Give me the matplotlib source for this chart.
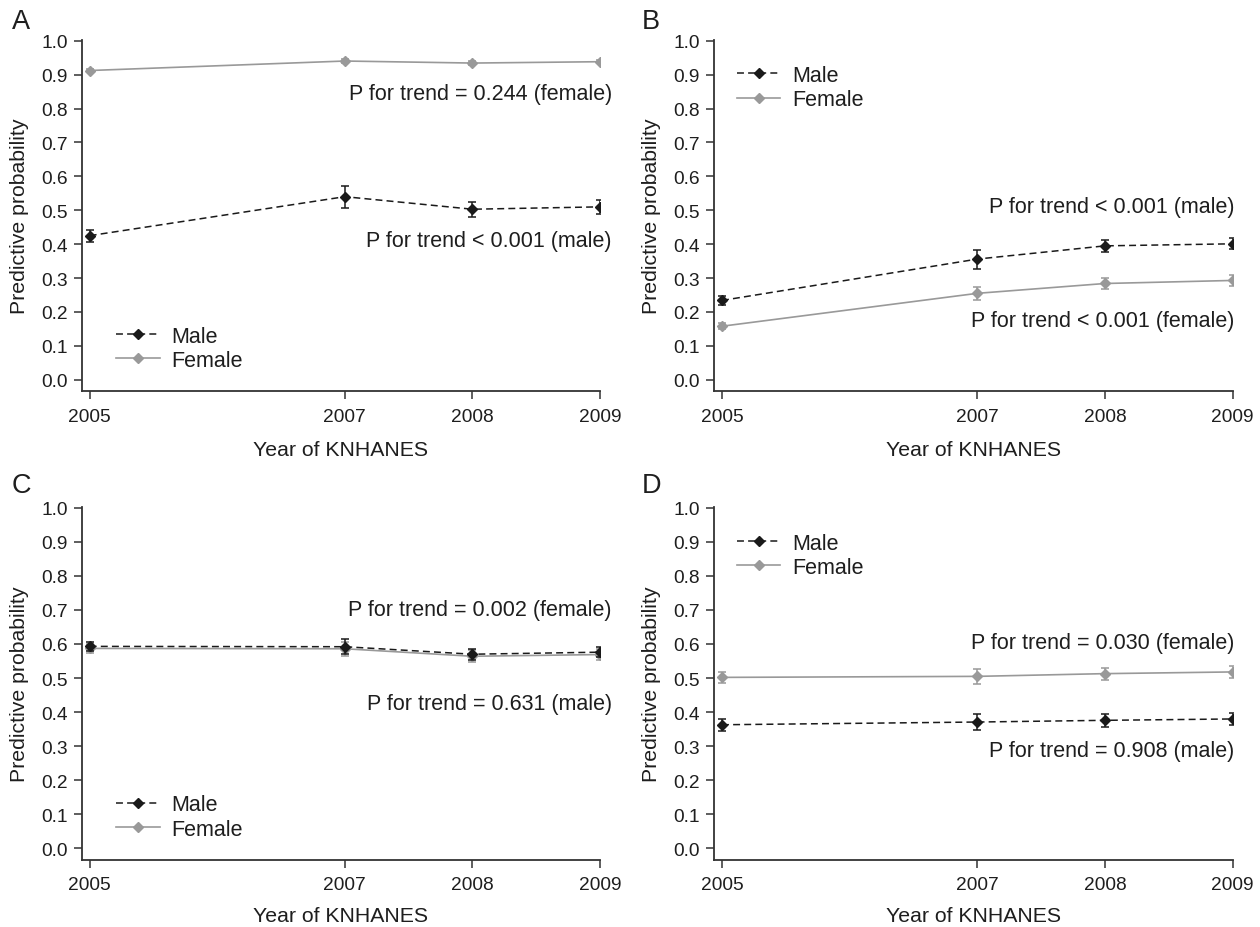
import matplotlib
matplotlib.use("Agg")
import matplotlib.pyplot as plt

plt.rcParams['font.family'] = ['Liberation Sans', 'DejaVu Sans']
plt.rcParams['lines.scale_dashes'] = False

years = [2005, 2007, 2008, 2009]
yticks = [0.0, 0.1, 0.2, 0.3, 0.4, 0.5, 0.6, 0.7, 0.8, 0.9, 1.0]

# Panel A
a_male = [0.425, 0.540, 0.503, 0.510]
a_male_err = [0.018, 0.032, 0.022, 0.021]
a_female = [0.912, 0.940, 0.934, 0.938]
a_female_err = [0.005, 0.006, 0.005, 0.005]
# Panel B
b_male = [0.234, 0.356, 0.395, 0.401]
b_male_err = [0.012, 0.028, 0.018, 0.016]
b_female = [0.158, 0.255, 0.284, 0.293]
b_female_err = [0.009, 0.019, 0.016, 0.015]
# Panel C
c_male = [0.593, 0.592, 0.570, 0.576]
c_male_err = [0.014, 0.022, 0.016, 0.014]
c_female = [0.587, 0.586, 0.564, 0.569]
c_female_err = [0.012, 0.020, 0.017, 0.015]
# Panel D
d_male = [0.363, 0.371, 0.376, 0.380]
d_male_err = [0.017, 0.024, 0.019, 0.018]
d_female = [0.502, 0.505, 0.513, 0.518]
d_female_err = [0.017, 0.023, 0.018, 0.017]

letters = ["A", "B", "C", "D"]
texts = [
    [("P for trend = 0.244 (female)", 0.843), ("P for trend < 0.001 (male)", 0.41)],
    [("P for trend < 0.001 (male)", 0.51), ("P for trend < 0.001 (female)", 0.174)],
    [("P for trend = 0.002 (female)", 0.70), ("P for trend = 0.631 (male)", 0.426)],
    [("P for trend = 0.030 (female)", 0.605), ("P for trend = 0.908 (male)", 0.287)],
]

MALE_C = "#1a1a1a"
FEMALE_C = "#999999"
SPINE_C = "#333333"
TXT_C = "#1e1e1e"

fig = plt.figure(figsize=(12.6, 9.28), dpi=100)

W, H = 1260.0, 928.0
boxes = [
    (81.6, 41.0, 600.0, 392.0),
    (713.6, 41.0, 1232.6, 392.0),
    (81.6, 508.0, 600.0, 860.7),
    (713.6, 508.0, 1232.6, 860.7),
]
x2005 = [89.7, 722.0, 89.7, 722.0]
text_x = [2009.094, 2009.016, 2009.094, 2009.016]
leg_pos = [(2005.21, 0.093), (2005.12, 0.862), (2005.21, 0.092), (2005.12, 0.86)]
xlabel_pad = [11, 11, 9, 9]

data = [
    (a_male, a_male_err, a_female, a_female_err),
    (b_male, b_male_err, b_female, b_female_err),
    (c_male, c_male_err, c_female, c_female_err),
    (d_male, d_male_err, d_female, d_female_err),
]

for i in range(4):
    x0, y0, x1, y1 = boxes[i]
    ax = fig.add_axes([x0 / W, 1 - y1 / H, (x1 - x0) / W, (y1 - y0) / H])
    male, male_err, female, female_err = data[i]
    fem = ax.errorbar(years, female, yerr=female_err, color=FEMALE_C, lw=1.2,
                      marker='D', markersize=4.8, capsize=3, elinewidth=1.1,
                      capthick=1.1, zorder=2)
    mal = ax.errorbar(years, male, yerr=male_err, color=MALE_C, lw=1.1,
                      linestyle=(0, (5, 3)), marker='D', markersize=4.8, capsize=3,
                      elinewidth=1.1, capthick=1.1, zorder=3)
    ax.set_xlim(2005 - (x2005[i] - x0) / 127.5, 2009)
    ax.set_ylim(-0.033, 1.002)
    ax.set_xticks(years)
    ax.set_xticklabels([str(y) for y in years])
    ax.set_yticks(yticks)
    ax.set_yticklabels([f"{v:.1f}" for v in yticks])
    for s in ['top', 'right']:
        ax.spines[s].set_visible(False)
    for s in ['left', 'bottom']:
        ax.spines[s].set_color(SPINE_C)
        ax.spines[s].set_linewidth(1.3)
    ax.tick_params(direction='out', length=6, width=1.1, color=SPINE_C,
                   labelsize=13.8, labelcolor=TXT_C)
    ax.tick_params(axis='x', pad=6)
    ax.tick_params(axis='y', pad=4)
    ax.set_xlabel("Year of KNHANES", fontsize=15.3, color=TXT_C,
                  labelpad=xlabel_pad[i])
    ax.set_ylabel("Predictive probability", fontsize=15.3, color=TXT_C, labelpad=9)
    for t, yy in texts[i]:
        ax.text(text_x[i], yy, t, ha='right', va='center', fontsize=15.5,
                color=TXT_C)
    lx, ly = leg_pos[i]
    ax.legend([mal[0], fem[0]], ["Male", "Female"],
              loc='center left', bbox_to_anchor=(lx, ly),
              bbox_transform=ax.transData, frameon=False, fontsize=15.5,
              handlelength=2.0, handletextpad=0.55, labelspacing=0.15,
              borderpad=0, borderaxespad=0, labelcolor=TXT_C)
    fig.text((12 if i % 2 == 0 else 642) / W, 1 - (9 if i < 2 else 473) / H,
             letters[i], fontsize=19.5, ha='left', va='top', color=TXT_C)

fig.savefig("out.png", dpi=100)
